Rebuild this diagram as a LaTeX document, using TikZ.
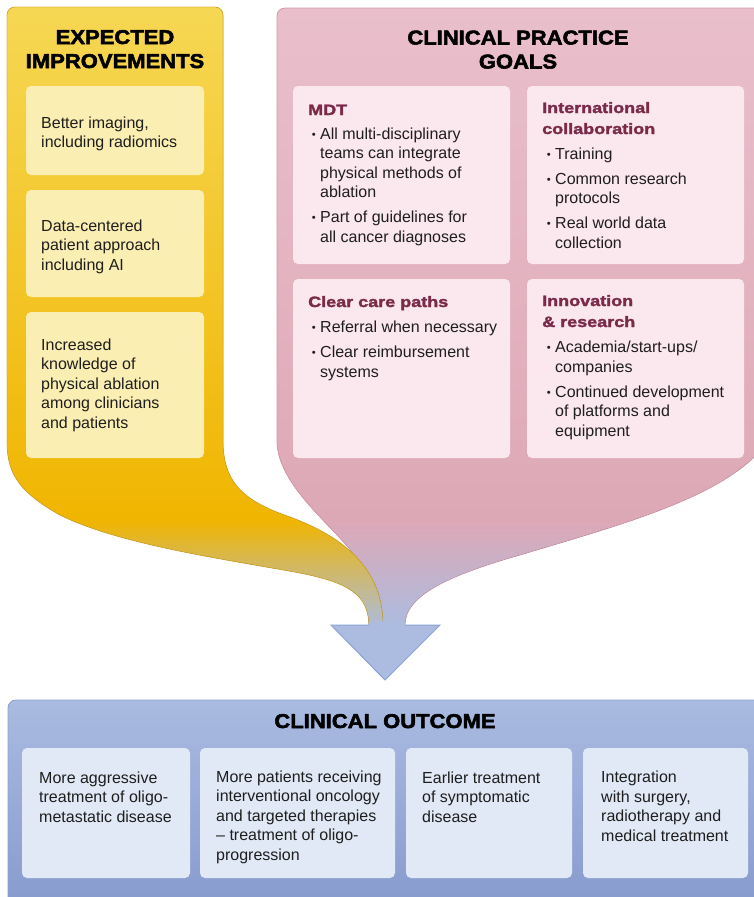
\documentclass[tikz,border=0pt]{standalone}
\usepackage{fontspec}
\usepackage{graphicx}
\setmainfont{Liberation Sans}
\newfontfamily\titlefont{Liberation Sans Bold}[FakeStretch=1.1,FakeBold=2.6]
\newfontfamily\headfont{Liberation Sans Bold}[FakeStretch=1.2,FakeBold=2]
\definecolor{yA}{HTML}{F6D855}
\definecolor{yB}{HTML}{F0B500}
\definecolor{yM}{HTML}{D5B77E}
\definecolor{pA}{HTML}{EABFCC}
\definecolor{pB}{HTML}{DDA8B6}
\definecolor{pM}{HTML}{C6AEC9}
\definecolor{bl}{HTML}{ABBCE0}
\definecolor{blEdge}{HTML}{8AA2D4}
\definecolor{yIn}{HTML}{FBEEB2}
\definecolor{pIn}{HTML}{FBE7EE}
\definecolor{bIn}{HTML}{E0E9F5}
\definecolor{bTop}{HTML}{AABBE1}
\definecolor{bBot}{HTML}{8599CC}
\definecolor{maroon}{HTML}{7B2B48}
\definecolor{txt}{HTML}{1E1E1E}
\definecolor{yEdge}{HTML}{D8A820}
\definecolor{pEdge}{HTML}{D59AAD}
\newcommand\itm{\llap{\raisebox{0.8pt}{\scalebox{0.7}{\textbullet}}\hspace{4.5pt}}}
\begin{document}
\begin{tikzpicture}[x=1pt,y=-1pt,
  body/.style={anchor=base west,align=left,inner sep=0pt,text=txt,font=\fontsize{16}{19.5}\selectfont},
  head/.style={anchor=base west,align=left,inner sep=0pt,text=maroon,font=\headfont\fontsize{15}{21}\selectfont},
  ttl/.style={anchor=base,align=center,inner sep=0pt,text=black,font=\titlefont\fontsize{20}{24}\selectfont},
  ybox/.style={fill=yIn,rounded corners=5pt},
  pbox/.style={fill=pIn,rounded corners=5pt},
  bbox/.style={fill=bIn,rounded corners=5pt}]
\useasboundingbox (0,0) rectangle (753,897);
\fill[white] (0,0) rectangle (753,897);

% ---- pink panel
\def\pinkpath{(369,625) .. controls (369,590) and (360,562) .. (348,547)
  .. controls (320,515) and (277,480) .. (277,440) -- (277,16)
  .. controls (277,11.6) and (280.6,8) .. (285,8) -- (765,8) -- (765,445)
  .. controls (725,497) and (620,525) .. (520,555)
  .. controls (450,575) and (405,595) .. (405,625) -- cycle}
\begin{scope}
  \clip \pinkpath;
  \fill[top color=pA,bottom color=pB] (260,0) rectangle (770,520);
  \fill[top color=pB,middle color=pM,bottom color=bl] (260,520) rectangle (770,628);
\end{scope}
\draw[pEdge,line width=0.8pt] (348,547) .. controls (320,515) and (277,480) .. (277,440) -- (277,16)
  .. controls (277,11.6) and (280.6,8) .. (285,8) -- (765,8);
\draw[pEdge,line width=0.8pt,draw opacity=0.6] (765,445)
  .. controls (725,497) and (620,525) .. (520,555)
  .. controls (450,575) and (405,595) .. (405,625);

% ---- yellow panel
\def\yelpath{(7,440) -- (7,15) .. controls (7,10.6) and (10.6,7) .. (15,7) -- (215,7)
  .. controls (219.4,7) and (223,10.6) .. (223,15) -- (223,440)
  .. controls (223,480) and (240,500) .. (290,517)
  .. controls (330,532) and (383,560) .. (383,625) -- (369,625)
  .. controls (368,595) and (350,583) .. (300,573)
  .. controls (230,560) and (120,545) .. (60,515)
  .. controls (15,490) and (7,470) .. (7,440) -- cycle}
\begin{scope}
  \clip \yelpath;
  \fill[top color=yA,bottom color=yB] (0,0) rectangle (400,520);
  \fill[top color=yB,middle color=yM,bottom color=bl] (0,520) rectangle (400,628);
\end{scope}
\draw[yEdge,line width=0.8pt,draw opacity=0.7] (383,625)
  .. controls (383,560) and (330,532) .. (290,517)
  .. controls (240,500) and (223,480) .. (223,440) -- (223,15)
  .. controls (223,10.6) and (219.4,7) .. (215,7) -- (15,7)
  .. controls (10.6,7) and (7,10.6) .. (7,15) -- (7,440)
  .. controls (7,470) and (15,490) .. (60,515)
  .. controls (120,545) and (230,560) .. (300,573)
  .. controls (350,583) and (368,595) .. (369,625);

% ---- arrow head
\fill[bl] (331,625) -- (440,625) -- (385,680) -- cycle;
\fill[bl] (369,622) rectangle (405,626);
\draw[blEdge,line width=1pt,line join=miter] (369,625) -- (331,625) -- (385,680) -- (440,625) -- (405,625);

% ---- blue outcome panel
\fill[top color=bTop,bottom color=bBot] (8,917) -- (8,708) .. controls (8,703.6) and (11.6,700) .. (16,700) -- (775,700) -- (775,917) -- cycle;
\draw[blEdge,line width=0.8pt] (8,917) -- (8,708) .. controls (8,703.6) and (11.6,700) .. (16,700) -- (775,700);

% ---- inner boxes
\fill[ybox] (26,86) rectangle (204,175);
\fill[ybox] (26,190) rectangle (204,297);
\fill[ybox] (26,312) rectangle (204,458);
\fill[pbox] (293,86) rectangle (510,264);
\fill[pbox] (527,86) rectangle (744,264);
\fill[pbox] (293,279) rectangle (510,458);
\fill[pbox] (527,279) rectangle (744,458);
\fill[bbox] (22,748) rectangle (190,878);
\fill[bbox] (200,748) rectangle (395,878);
\fill[bbox] (406,748) rectangle (572,878);
\fill[bbox] (583,748) rectangle (748,878);

% ---- titles (anchor = baseline of last line)
\node[ttl] (tExp) at (115,68) {EXPECTED\\IMPROVEMENTS};
\node[ttl] (tGoal) at (518,68.5) {CLINICAL PRACTICE\\GOALS};
\node[ttl] (tOut) at (385,728) {CLINICAL OUTCOME};

% ---- yellow texts
\node[body] (y1) at (41,147.5) {Better imaging,\\including radiomics};
\node[body] (y2) at (41,270) {Data-centered\\patient approach\\including AI};
\node[body] (y3) at (41,428) {Increased\\knowledge of\\physical ablation\\among clinicians\\and patients};

% ---- pink texts
\node[head] (hMDT) at (308,115) {MDT};
\node[body] (iMDT) at (320,242) {\itm All multi-disciplinary\\teams can integrate\\physical methods of\\ablation\\[5.5pt]\itm Part of guidelines for\\all cancer diagnoses};
\node[head] (hInt) at (542,134) {International\\collaboration};
\node[body] (iInt) at (555,248) {\itm Training\\[5.5pt]\itm Common research\\protocols\\[5.5pt]\itm Real world data\\collection};
\node[head] (hCare) at (308,307) {Clear care paths};
\node[body] (iCare) at (320,377) {\itm Referral when necessary\\[5.5pt]\itm Clear reimbursement\\systems};
\node[head] (hInn) at (542,327) {Innovation\\\& research};
\node[body] (iInn) at (555,436) {\itm Academia/start-ups/\\companies\\[5.5pt]\itm Continued development\\of platforms and\\equipment};

% ---- outcome texts
\node[body] (o1) at (39,822) {More aggressive\\treatment of oligo-\\metastatic disease};
\node[body] (o2) at (216,860) {More patients receiving\\interventional oncology\\and targeted therapies\\– treatment of oligo-\\progression};
\node[body] (o3) at (422,822) {Earlier treatment\\of symptomatic\\disease};
\node[body] (o4) at (601,841) {Integration\\with surgery,\\radiotherapy and\\medical treatment};
\end{tikzpicture}
\end{document}
